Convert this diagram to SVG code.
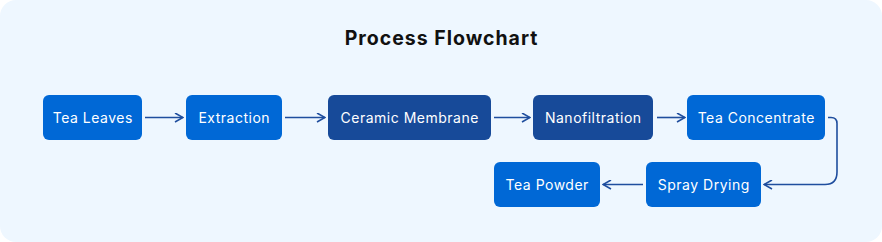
<svg xmlns="http://www.w3.org/2000/svg" width="882" height="242" viewBox="0 0 882 242">
<style>
.bg{fill:#EEF7FF}
.n rect{fill:#0068D6}
.n.d rect{fill:#174A99}
.n text{fill:#FFFFFF;font-family:Inter,"Liberation Sans",sans-serif;font-size:14px;letter-spacing:0.5px;text-anchor:middle;dominant-baseline:central}
.t{fill:#111111;font-family:Inter,"Liberation Sans",sans-serif;font-size:19.5px;font-weight:700;letter-spacing:1px;text-anchor:middle}
.c path{fill:none;stroke:#1F4E9E;stroke-width:1.6}
</style>
<defs>
<marker id="ah" viewBox="0 0 10 10" refX="9" refY="5" markerWidth="10" markerHeight="10" markerUnits="userSpaceOnUse" orient="auto">
<path d="M1 0.5 L9 5 L1 9.5" fill="none" stroke="#1F4E9E" stroke-width="1.6"/>
</marker>
</defs>
<rect class="bg" x="0" y="0" width="882" height="242" rx="16"/>
<text class="t" x="441.5" y="45">Process Flowchart</text>
<g class="c">
<path d="M145 117.5 L183 117.5" marker-end="url(#ah)"/>
<path d="M285 117.5 L325 117.5" marker-end="url(#ah)"/>
<path d="M494 117.5 L530 117.5" marker-end="url(#ah)"/>
<path d="M657 117.5 L685 117.5" marker-end="url(#ah)"/>
<path d="M828 117.5 L831 117.5 Q837 117.5 837 123.5 L837 172 Q837 184.5 825 184.5 L764 184.5" marker-end="url(#ah)"/>
<path d="M643 184.5 L603 184.5" marker-end="url(#ah)"/>
</g>
<g id="tea-leaves" class="n"><rect x="43" y="95" width="99" height="45" rx="6"/><text x="92.75" y="117.5">Tea Leaves</text></g>
<g id="extraction" class="n"><rect x="186" y="95" width="96" height="45" rx="6"/><text x="234.25" y="117.5">Extraction</text></g>
<g id="ceramic-membrane" class="n d"><rect x="328" y="95" width="163" height="45" rx="6"/><text x="409.75" y="117.5">Ceramic Membrane</text></g>
<g id="nanofiltration" class="n d"><rect x="533" y="95" width="120" height="45" rx="6"/><text x="593.25" y="117.5">Nanofiltration</text></g>
<g id="tea-concentrate" class="n"><rect x="687" y="95" width="138" height="45" rx="6"/><text x="756.25" y="117.5">Tea Concentrate</text></g>
<g id="spray-drying" class="n"><rect x="646" y="162" width="115" height="45" rx="6"/><text x="703.75" y="184.5">Spray Drying</text></g>
<g id="tea-powder" class="n"><rect x="494" y="162" width="106" height="45" rx="6"/><text x="547.25" y="184.5">Tea Powder</text></g>
</svg>
